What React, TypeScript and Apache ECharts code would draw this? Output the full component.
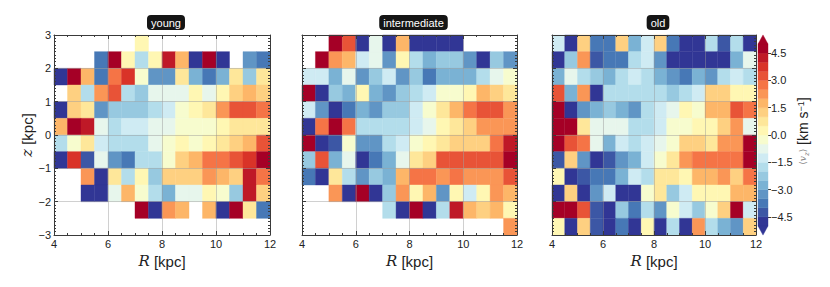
import React, { useEffect, useRef } from 'react';
import * as echarts from 'echarts';

// ---- data ----
const R_EDGES = [4, 4.5, 5, 5.5, 6, 6.5, 7, 7.5, 8, 8.5, 9, 9.5, 10, 10.5, 11, 11.5];
const Z_EDGES = [2.5, 2, 1.5, 1, 0.5, 0, -0.5, -1, -1.5, -2, -2.5, -3];
const BIN = 0.5;
const PANEL_TITLES = ['young', 'intermediate', 'old'];
const CB_LEVELS = [-5, -4.5, -4, -3.5, -3, -2.5, -2, -1.5, -1, -0.5, 0, 0.5, 1, 1.5, 2, 2.5, 3, 3.5, 4, 4.5];
const CB_STEP = 0.5;
const CB_TICKS = [-4.5, -3, -1.5, 0, 1.5, 3, 4.5];
const V_MIN = -5;
const V_MAX = 5;
const _ = null;

const YOUNG = [
  [_, _, _, _, _, _, 0.3, _, _, _, _, _, _, _, _, _],
  [_, _, _, -3.6, 4.8, 0.4, -1.7, 0.4, 4.3, 1.8, -4.8, 4.8, -4.8, _, -3.2, -3.6],
  [-4.8, 4.8, 1.5, -3.6, 2.8, 3.9, -0.2, -3.2, -3.2, 0.8, -2.6, -3.6, -2.6, 0.8, -2.1, 0.8],
  [_, 1.4, -1.6, 2.3, 3.3, -1.6, -2.1, -0.6, -0.6, -0.6, 0.3, -0.6, 0.4, 1.4, 1.9, 1.4],
  [-4.8, 1.4, 0.8, -3.2, -2.1, -2.1, -2.1, -1.7, -1.1, -0.2, 0.3, 0.8, 2.3, 3.3, 3.3, 2.8],
  [1.8, 4.8, 4.3, -0.6, -1.6, -1.1, -1.1, -0.6, -0.6, -0.2, -0.2, -0.2, 0.4, 0.8, 0.8, 0.8],
  [-1.6, -0.2, 0.8, -1.1, -1.6, -1.6, -1.6, -0.6, -0.2, 0.4, -0.2, 0.4, 0.8, 1.4, 1.9, 3.3],
  [-4.8, 3.9, -4.3, -0.6, -3.2, -3.7, -1.6, -1.6, -0.2, 1.4, 1.9, 2.8, 2.8, 3.3, 3.9, 4.8],
  [_, _, 2.3, -4.8, 0.8, -1.6, 0.4, -2.1, 1.4, 1.4, 1.4, 2.3, 1.9, 1.4, 4.3, 2.8],
  [_, _, -4.8, -4.8, -0.6, 1.9, -0.2, -1.6, -2.6, -0.6, -0.6, 0.4, -0.2, -2.1, 4.3, 1.4],
  [_, _, _, _, _, _, 4.8, -4.8, 2.3, 1.9, _, 1.9, -4.8, 4.8, 0.8, -3.6],
  [_, _, _, _, _, _, _, _, _, _, _, _, _, _, _, _],
];

const INTERMEDIATE = [
  [_, _, 4.8, 3.3, -4.8, -0.6, -4.8, 1.8, -4.8, -4.8, -4.8, -4.8, _, _, _, _],
  [_, 4.8, 2.3, 1.5, -1.1, -0.6, -3.2, 0.4, -1.6, -2.6, -2.1, -2.1, -3.2, -4.8, -2.1, -3.2],
  [-1.1, -1.1, -2.6, -0.6, -3.2, -2.1, -1.1, -3.2, -2.1, -3.7, -2.6, -2.6, -2.6, -1.6, -0.6, -0.2],
  [4.8, -4.8, -2.1, -2.6, 0.4, -2.6, -3.2, -2.1, -1.6, -1.1, -0.2, -0.2, 0.4, 1.9, 1.4, 0.8],
  [-1.1, -3.2, -4.8, -3.7, -2.6, -3.2, -2.1, -2.1, -1.1, -0.2, 0.8, 1.9, 2.8, 3.3, 3.3, 2.3],
  [-4.8, 2.8, 4.8, 2.8, -1.6, -1.6, -1.6, -1.6, -1.1, -0.6, 0.4, 0.8, 1.4, 2.3, 2.3, 2.3],
  [4.8, -4.8, -4.3, -0.2, -3.2, -3.2, -1.6, -1.1, -0.2, 0.4, 0.8, 1.4, 1.4, 1.4, 2.8, 4.3],
  [-2.1, 3.3, -2.6, -0.6, -4.8, -3.7, -2.6, -0.6, 0.8, 1.4, 3.3, 3.3, 3.3, 3.3, 3.3, 4.8],
  [-3.7, -4.8, 0.8, -1.6, -3.2, -2.1, -2.6, 1.9, 2.8, 2.8, 2.3, 2.8, 2.3, 2.3, 2.3, 3.3],
  [_, _, 2.3, -4.8, 4.8, -4.8, -2.1, 2.3, 0.4, 1.9, -3.2, 0.4, -1.1, 0.4, 2.3, 1.9],
  [_, _, _, _, _, _, -1.6, -4.8, 4.8, -4.8, -1.6, 4.3, 1.9, 1.4, 1.9, 0.4],
  [_, _, _, _, _, _, _, _, _, _, _, _, _, _, _, 2.3],
];

const OLD = [
  [-1.1, -4.8, 1.4, -3.7, -3.7, 1.4, -2.6, -1.1, 1.1, -3.7, -4.8, -4.8, -1.6, -4.3, -1.6, -4.8],
  [-4.8, -2.1, 2.3, -4.3, -3.7, -3.7, -1.6, -1.1, -3.2, -4.8, -4.8, -4.8, -4.8, -4.8, -2.6, -0.6],
  [-2.6, -0.6, -1.6, -2.1, -2.6, -1.6, -1.1, -1.6, -2.6, -3.2, -3.7, -2.6, -3.2, -1.6, -1.1, -1.6],
  [3.3, -2.6, 2.3, -4.8, -1.6, -1.6, -1.6, -1.6, -1.6, -2.1, -1.6, -1.1, 1.1, 1.4, 0.4, 0.4],
  [4.8, -4.8, -3.2, -2.6, -2.1, -2.6, -3.2, -1.6, -1.1, -0.6, 0.4, -0.2, 1.9, 1.9, 3.3, 2.8],
  [4.8, 4.8, 0.8, -0.6, -0.6, -0.6, -1.6, -1.6, -1.1, -0.2, -0.2, 0.4, 0.4, 1.4, 2.3, -0.6],
  [4.8, 3.3, 2.8, -0.6, -2.6, -1.1, -1.6, -1.1, -0.6, -0.2, 1.4, 1.4, 0.8, 2.3, 2.3, 4.8],
  [-4.3, 1.4, -3.2, -4.8, -4.3, -3.2, -2.6, -1.1, -0.2, 0.8, 2.3, 2.8, 2.8, 2.8, 2.8, 4.8],
  [0.4, -4.8, -4.3, -3.7, -3.7, -2.6, -1.1, -1.6, 0.8, 0.8, 0.4, 1.9, 1.9, 2.3, 1.4, 2.8],
  [-4.8, 1.4, -4.8, -3.2, -1.1, -4.8, -4.8, -0.2, 0.8, -2.1, -1.1, 0.4, 0.4, 0.4, 1.9, 1.9],
  [4.8, 4.8, 3.3, -4.3, -4.8, -2.1, -3.7, -1.6, -3.2, -0.2, -1.1, -2.1, -0.2, 1.4, 4.8, -1.1],
  [0.4, -4.8, 1.4, -4.3, -4.8, -3.7, -4.8, 0.4, -4.8, -1.6, -4.8, 2.3, -1.6, -2.6, -3.2, 1.4],
];

const PANELS = [YOUNG, INTERMEDIATE, OLD];

// ---- styling / layout ----
const CMAP_ANCHORS = ['#313695', '#4575b4', '#74add1', '#abd9e9', '#e0f3f8', '#ffffbf', '#fee090', '#fdae61', '#f46d43', '#d73027', '#a50026'];
const GRIDS = [
  { left: 54, top: 35, width: 216, height: 200 },
  { left: 302, top: 35, width: 215, height: 200 },
  { left: 552, top: 35, width: 204, height: 200 },
];
const CB_GRID = { left: 758, top: 44, width: 10, height: 182 };
const FONT = 'Liberation Sans, Arial, sans-serif';
const TEXT_COLOR = '#222';
const FRAME = '#3a3a3a';

function hexToRgb(h: string) {
  const n = parseInt(h.slice(1), 16);
  return [(n >> 16) & 255, (n >> 8) & 255, n & 255];
}
function cmap(t: number) {
  const tt = Math.max(0, Math.min(1, t)) * (CMAP_ANCHORS.length - 1);
  const i = Math.min(Math.floor(tt), CMAP_ANCHORS.length - 2);
  const f = tt - i;
  const a = hexToRgb(CMAP_ANCHORS[i]);
  const b = hexToRgb(CMAP_ANCHORS[i + 1]);
  const c = a.map((x, k) => Math.round(x + (b[k] - x) * f));
  return `rgb(${c[0]},${c[1]},${c[2]})`;
}
function colorFor(v: number) {
  const nLev = CB_LEVELS.length;
  let lev = Math.floor((v - V_MIN) / CB_STEP);
  lev = Math.max(0, Math.min(nLev - 1, lev));
  return cmap(lev / (nLev - 1));
}
const fmtMinus = (v: number, d = 0) => (d ? v.toFixed(d) : String(v)).replace('-', '\u2212');

function buildOption() {
  const xAxis: any[] = [];
  const yAxis: any[] = [];
  const series: any[] = [];
  const grid: any[] = [];
  const title: any[] = [];

  GRIDS.forEach((g, i) => {
    grid.push({ ...g, containLabel: false });
    title.push({
      text: PANEL_TITLES[i],
      left: g.left + g.width / 2,
      top: 15,
      textAlign: 'center',
      backgroundColor: '#151515',
      borderRadius: 4,
      padding: [2, 4, 2, 4],
      textStyle: { color: '#fff', fontSize: 11, fontWeight: 'normal', fontFamily: FONT },
    });
    const axisLine = { show: true, onZero: false, lineStyle: { color: FRAME, width: 1 } };
    const tick = { show: true, inside: true, length: 4, lineStyle: { color: FRAME } };
    const split = { show: true, lineStyle: { color: 'rgba(150,150,150,0.45)', width: 1 } };
    xAxis.push({
      type: 'value', gridIndex: i, position: 'bottom', min: 4, max: 12, interval: 2, z: 10,
      axisLine, axisTick: tick,
      minorTick: { show: true, splitNumber: 4, length: 2, lineStyle: { color: FRAME } },
      splitLine: split,
      axisLabel: { show: true, fontSize: 11, color: TEXT_COLOR, fontFamily: FONT, margin: 3 },
      name: '{i|R} [kpc]', nameLocation: 'middle', nameGap: 11,
      nameTextStyle: {
        fontSize: 15, color: TEXT_COLOR, fontFamily: FONT, verticalAlign: 'top',
        rich: { i: { fontSize: 15, fontFamily: 'DejaVu Serif', fontStyle: 'italic', color: TEXT_COLOR } },
      },
    });
    xAxis.push({
      type: 'value', gridIndex: i, position: 'top', min: 4, max: 12, interval: 2, z: 10,
      axisLine, axisTick: tick,
      minorTick: { show: true, splitNumber: 4, length: 2, lineStyle: { color: FRAME } },
      splitLine: { show: false }, axisLabel: { show: false },
    });
    yAxis.push({
      type: 'value', gridIndex: i, position: 'left', min: -3, max: 3, interval: 1, z: 10,
      axisLine, axisTick: tick,
      minorTick: { show: true, splitNumber: 10, length: 2, lineStyle: { color: FRAME } },
      splitLine: split,
      axisLabel: {
        show: i === 0, fontSize: 11, color: TEXT_COLOR, fontFamily: FONT, margin: 3,
        formatter: (v: number) => fmtMinus(v),
      },
      name: i === 0 ? '{i|z} [kpc]' : '', nameLocation: 'middle', nameGap: 16, nameRotate: 90,
      nameTextStyle: {
        fontSize: 15, color: TEXT_COLOR, fontFamily: FONT,
        rich: { i: { fontSize: 15, fontFamily: 'DejaVu Serif', fontStyle: 'italic', color: TEXT_COLOR } },
      },
    });
    yAxis.push({
      type: 'value', gridIndex: i, position: 'right', min: -3, max: 3, interval: 1, z: 10,
      axisLine, axisTick: tick,
      minorTick: { show: true, splitNumber: 10, length: 2, lineStyle: { color: FRAME } },
      splitLine: { show: false }, axisLabel: { show: false },
    });

    const rows = PANELS[i];
    const data: any[] = [];
    rows.forEach((row, ri) => {
      row.forEach((v, ci) => {
        if (v !== null && v !== undefined) data.push([R_EDGES[ci], Z_EDGES[ri], v]);
      });
    });
    series.push({
      type: 'custom', name: PANEL_TITLES[i], xAxisIndex: 2 * i, yAxisIndex: 2 * i,
      data, z: 2,
      renderItem: (params: any, api: any) => {
        const r0 = api.value(0);
        const z0 = api.value(1);
        const v = api.value(2);
        const p1 = api.coord([r0, z0 + BIN]);
        const p2 = api.coord([r0 + BIN, z0]);
        const col = colorFor(v);
        return {
          type: 'rect',
          shape: { x: p1[0], y: p1[1], width: p2[0] - p1[0], height: p2[1] - p1[1] },
          style: { fill: col, stroke: col, lineWidth: 0.4 },
        };
      },
    });
  });

  // colorbar
  grid.push({ ...CB_GRID, containLabel: false });
  xAxis.push({ type: 'value', gridIndex: 3, min: 0, max: 1, show: false });
  yAxis.push({
    type: 'value', gridIndex: 3, position: 'right', min: V_MIN, max: V_MAX,
    axisLine: { show: false, onZero: false },
    axisTick: { show: true, customValues: CB_TICKS, length: 3, inside: false, lineStyle: { color: FRAME } },
    axisLabel: {
      show: true, customValues: CB_TICKS, fontSize: 11, color: TEXT_COLOR, fontFamily: FONT, margin: 3,
      formatter: (v: number) => fmtMinus(v, 1),
    },
    splitLine: { show: false },
  });
  const nLev = CB_LEVELS.length;
  series.push({
    type: 'custom', name: 'colorbar', xAxisIndex: 6, yAxisIndex: 6,
    data: CB_LEVELS.map((lo, k) => [lo, k]), clip: false,
    renderItem: (params: any, api: any) => {
      const lo = api.value(0);
      const k = api.value(1);
      const col = cmap(k / (nLev - 1));
      const p1 = api.coord([0, lo + CB_STEP]);
      const p2 = api.coord([1, lo]);
      const children: any[] = [{
        type: 'rect',
        shape: { x: p1[0], y: p1[1], width: p2[0] - p1[0], height: p2[1] - p1[1] },
        style: { fill: col, stroke: col, lineWidth: 0.4 },
      }];
      if (k === 0) {
        const a = api.coord([0, V_MIN]);
        const b = api.coord([1, V_MIN]);
        const c = api.coord([0.5, V_MIN - CB_STEP]);
        children.push({ type: 'polygon', shape: { points: [a, b, c] }, style: { fill: col, stroke: col, lineWidth: 0.4 } });
      }
      if (k === nLev - 1) {
        const a = api.coord([0, V_MAX]);
        const b = api.coord([1, V_MAX]);
        const c = api.coord([0.5, V_MAX + CB_STEP]);
        children.push({ type: 'polygon', shape: { points: [a, b, c] }, style: { fill: col, stroke: col, lineWidth: 0.4 } });
      }
      return { type: 'group', children };
    },
  });

  return {
    animation: false,
    backgroundColor: '#fff',
    title,
    grid,
    xAxis,
    yAxis,
    series,
    graphic: [
      {
        type: 'text',
        x: 803,
        y: 131,
        rotation: Math.PI / 2,
        style: {
          text: '{g|\u27E8}{v|v}{s|z}{g|\u27E9} [km s{sup|\u22121}]',
          fontSize: 14,
          fontFamily: FONT,
          fill: TEXT_COLOR,
          align: 'center',
          verticalAlign: 'middle',
          rich: {
            g: { fontSize: 9, fill: '#888', fontFamily: 'DejaVu Sans' },
            v: { fontSize: 9, fill: '#888', fontFamily: 'DejaVu Serif', fontStyle: 'italic' },
            s: { fontSize: 7, fill: '#888', fontFamily: 'DejaVu Serif', fontStyle: 'italic', verticalAlign: 'bottom' },
            sup: { fontSize: 9, fill: TEXT_COLOR, fontFamily: FONT, verticalAlign: 'top' },
          },
        },
      },
    ],
  };
}

export default function App() {
  const ref = useRef<HTMLDivElement>(null);
  useEffect(() => {
    if (!ref.current) return;
    const chart = echarts.init(ref.current, undefined, { renderer: 'svg' });
    chart.setOption(buildOption() as any);
    return () => chart.dispose();
  }, []);
  return (
    <div
      ref={ref}
      style={{ position: 'absolute', left: 0, top: 0, width: 830, height: 287, background: '#fff' }}
    />
  );
}
